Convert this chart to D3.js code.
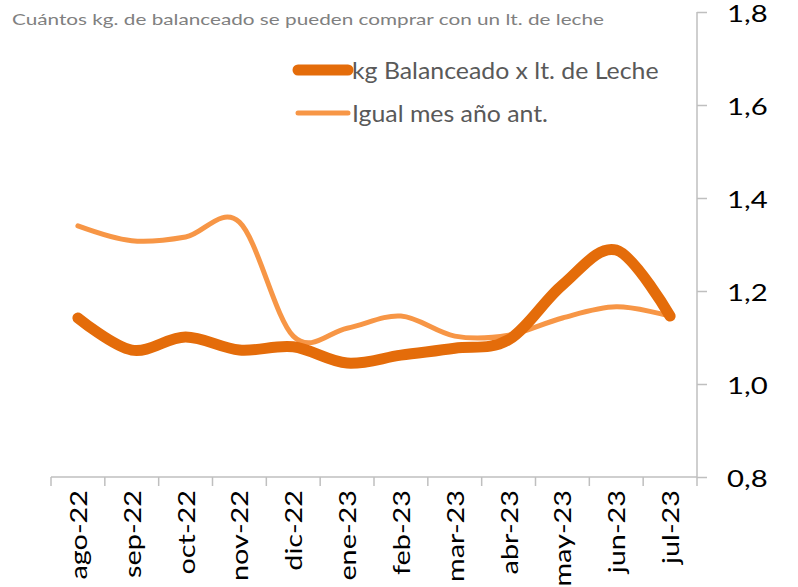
<!DOCTYPE html>
<html>
<head>
<meta charset="utf-8">
<script src="https://cdn.jsdelivr.net/npm/d3@7"></script>
<style>
  body { margin: 0; background: #fff; }
  svg { display: block; font-family: Lato, "Open Sans", sans-serif; }
</style>
</head>
<body>
<div id="chart"></div>
<script>
// data
const months = ["ago-22", "sep-22", "oct-22", "nov-22", "dic-22", "ene-23",
                "feb-23", "mar-23", "abr-23", "may-23", "jun-23", "jul-23"];
const kgBalanceado = [1.142, 1.073, 1.101, 1.073, 1.080, 1.045, 1.062, 1.077, 1.095, 1.213, 1.288, 1.146];
const mesAnterior  = [1.340, 1.308, 1.316, 1.348, 1.103, 1.120, 1.146, 1.103, 1.105, 1.142, 1.166, 1.146];
const yTicks = [0.8, 1.0, 1.2, 1.4, 1.6, 1.8];

const W = 798, H = 587;
const plot = { left: 51, right: 697, top: 12, bottom: 477 };

const svg = d3.select("#chart").append("svg")
    .attr("width", W)
    .attr("height", H);

// widen text along its direction (reference font runs wider than Lato)
function stretch(sel, factor) {
    sel.each(function () {
        const len = this.getComputedTextLength();
        d3.select(this).attr("textLength", len * factor).attr("lengthAdjust", "spacingAndGlyphs");
    });
}

// scales
const xBand = d3.scaleBand().domain(months).range([plot.left, plot.right]).padding(0);
const x = d => xBand(d) + xBand.bandwidth() / 2;
const y = d3.scaleLinear().domain([0.8, 1.8]).range([plot.bottom, plot.top]);

// title
const title = svg.append("text")
    .attr("x", 12)
    .attr("y", 25)
    .attr("fill", "#808080")
    .style("font-size", "15px")
    .text("Cuántos kg. de balanceado se pueden comprar con un lt. de leche");
title.attr("textLength", 592).attr("lengthAdjust", "spacingAndGlyphs");

// y axis on the right
const yAxis = svg.append("g")
    .attr("transform", `translate(${plot.right},0)`)
    .call(d3.axisRight(y).tickValues(yTicks).tickSize(10).tickPadding(20)
        .tickFormat(d => d3.format(".1f")(d).replace(".", ",")));
yAxis.selectAll("line, path").attr("stroke", "#bfbfbf").attr("stroke-width", 1.5);
yAxis.select(".domain").attr("d", `M0,${plot.top}V${plot.bottom}`);
yAxis.selectAll("text")
    .attr("fill", "#000")
    .attr("dy", "0.38em")
    .style("font-size", "24px")
    .style("font-family", "Lato, sans-serif");
stretch(yAxis.selectAll("text"), 1.22);

// x axis with band boundary ticks
const xAxis = svg.append("g");
xAxis.append("line")
    .attr("x1", plot.left).attr("x2", plot.right)
    .attr("y1", plot.bottom).attr("y2", plot.bottom)
    .attr("stroke", "#bfbfbf").attr("stroke-width", 1.5);
const bounds = months.map(m => xBand(m)).concat([xBand(months[months.length - 1]) + xBand.bandwidth()]);
xAxis.selectAll(".xtick")
    .data(bounds)
    .enter().append("line")
    .attr("class", "xtick")
    .attr("x1", d => d).attr("x2", d => d)
    .attr("y1", plot.bottom).attr("y2", plot.bottom + 9)
    .attr("stroke", "#bfbfbf").attr("stroke-width", 1.5);
const xLabels = xAxis.selectAll(".xlabel")
    .data(months)
    .enter().append("text")
    .attr("class", "xlabel")
    .attr("transform", d => `translate(${x(d) + 9},${plot.bottom + 13}) rotate(-90)`)
    .attr("text-anchor", "end")
    .attr("fill", "#000")
    .style("font-size", "24px")
    .text(d => d);
stretch(xLabels, 1.2);

// lines
const line = d3.line()
    .x((d, i) => x(months[i]))
    .y(d => y(d))
    .curve(d3.curveCardinal.tension(0));

svg.append("path")
    .datum(mesAnterior)
    .attr("fill", "none")
    .attr("stroke", "#f79646")
    .attr("stroke-width", 5)
    .attr("stroke-linecap", "round")
    .attr("stroke-linejoin", "round")
    .attr("d", line);

svg.append("path")
    .datum(kgBalanceado)
    .attr("fill", "none")
    .attr("stroke", "#e46c0a")
    .attr("stroke-width", 11)
    .attr("stroke-linecap", "round")
    .attr("stroke-linejoin", "round")
    .attr("d", line);

// legend
const legendItems = [
    { name: "kg Balanceado x lt. de Leche", color: "#e46c0a", w: 11, y: 70 },
    { name: "Igual mes año ant.", color: "#f79646", w: 5, y: 113 }
];
const legend = svg.append("g");
legend.selectAll("line")
    .data(legendItems)
    .enter().append("line")
    .attr("x1", 298).attr("x2", 348)
    .attr("y1", d => d.y).attr("y2", d => d.y)
    .attr("stroke", d => d.color)
    .attr("stroke-width", d => d.w)
    .attr("stroke-linecap", "round");
const legendText = legend.selectAll("text")
    .data(legendItems)
    .enter().append("text")
    .attr("x", 352)
    .attr("y", d => d.y + 9)
    .attr("fill", "#595959")
    .style("font-size", "23px")
    .text(d => d.name);
stretch(legendText, 1.08);
</script>
</body>
</html>
